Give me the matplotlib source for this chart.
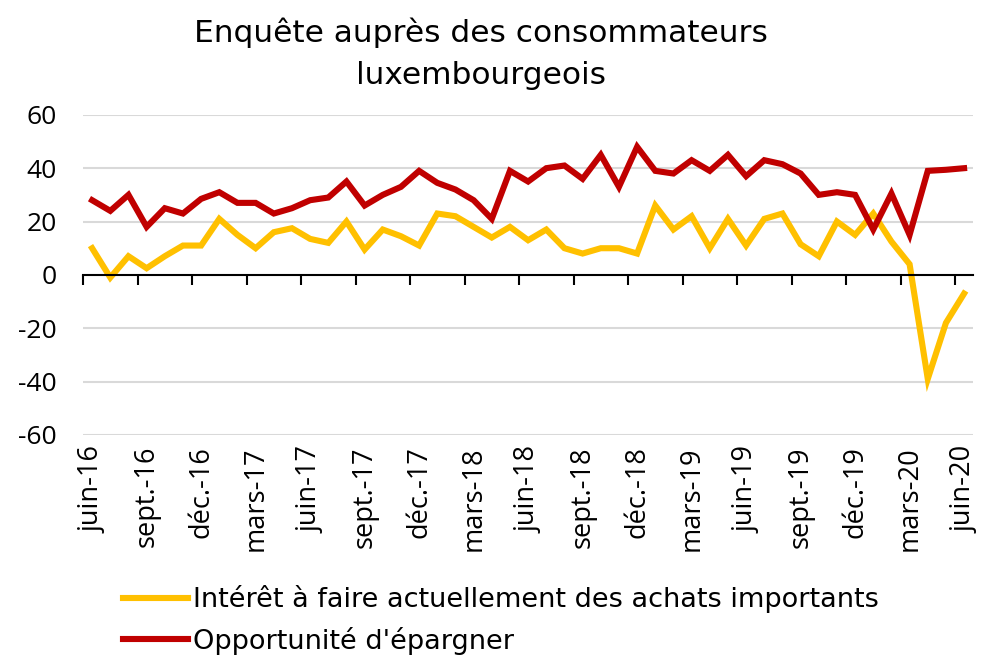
import numpy as np
import matplotlib
matplotlib.use("Agg")
import matplotlib.pyplot as plt
from matplotlib.lines import Line2D

# Monthly data, juin-16 .. juin-20
months = ["juin", "juil.", "août", "sept.", "oct.", "nov.", "déc.", "janv.", "févr.", "mars", "avr.", "mai"]
achats = [10, -1, 7, 2.5, 7, 11, 11, 21, 15, 10, 16, 17.5,
          13.5, 12, 20, 9.5, 17, 14.5, 11, 23, 22, 18, 14, 18,
          13, 17, 10, 8, 10, 10, 8, 26, 17, 22, 10, 21,
          11, 21, 23, 11.5, 7, 20, 15, 23, 12.5, 4, -39, -18, -7]
epargne = [28, 24, 30, 18, 25, 23, 28.5, 31, 27, 27, 23, 25,
           28, 29, 35, 26, 30, 33, 39, 34.5, 32, 28, 21, 39,
           35, 40, 41, 36, 45, 33, 48, 39, 38, 43, 39, 45,
           37, 43, 41.5, 38, 30, 31, 30, 17, 30.5, 15, 39, 39.4, 40]

n = len(achats)
labels = []
for i in range(n):
    yr = 16 + (5 + i) // 12
    labels.append("%s-%d" % (months[i % 12], yr))

x = np.arange(n)

fig = plt.figure(figsize=(9.84, 6.6), dpi=100)
ax = fig.add_axes([0.0844, 0.341, 0.9046, 0.485])

ax.plot(x, achats, color="#FFC000", lw=4.4, solid_joinstyle="miter")
ax.plot(x, epargne, color="#C00000", lw=4.4, solid_joinstyle="miter")

ax.set_xlim(-0.5, n - 0.5)
ax.set_ylim(-60, 60)
ax.set_yticks(np.arange(-60, 61, 20))
ax.set_yticklabels([str(v) for v in range(-60, 61, 20)], fontsize=19, family="Open Sans")
ax.tick_params(axis="y", length=0, pad=19)
for v in [-60, -40, -20, 20, 40, 60]:
    ax.axhline(v, color="#D9D9D9", lw=1.5, zorder=0)

for s in ["left", "right", "top"]:
    ax.spines[s].set_visible(False)
ax.spines["bottom"].set_position(("data", 0))
ax.spines["bottom"].set_linewidth(1.5)
ax.set_xticks(np.arange(-0.5, n - 1, 3))
ax.set_xticklabels([])
ax.tick_params(axis="x", direction="out", length=7, width=1.5)

sec = ax.secondary_xaxis(0.0)
sec.set_xticks(x[::3])
sec.set_xticklabels(labels[::3], rotation=90, fontsize=19.5, family="Open Sans")
sec.tick_params(length=0, pad=8)
sec.spines["bottom"].set_visible(False)

fig.text(0.489, 0.951, "Enquête auprès des consommateurs", ha="center", va="center", fontsize=22.5)
fig.text(0.489, 0.886, "luxembourgeois", ha="center", va="center", fontsize=22.5)

handles = [Line2D([], [], color="#FFC000", lw=4.4), Line2D([], [], color="#C00000", lw=4.4)]
fig.legend(handles, ["Intérêt à faire actuellement des achats importants", "Opportunité d'épargner"],
           loc="upper left", bbox_to_anchor=(0.125, 0.113), frameon=False, fontsize=19.5,
           handlelength=2.4, handletextpad=0.2, labelspacing=0.5, borderaxespad=0, borderpad=0)

fig.savefig("out.png", dpi=100)
